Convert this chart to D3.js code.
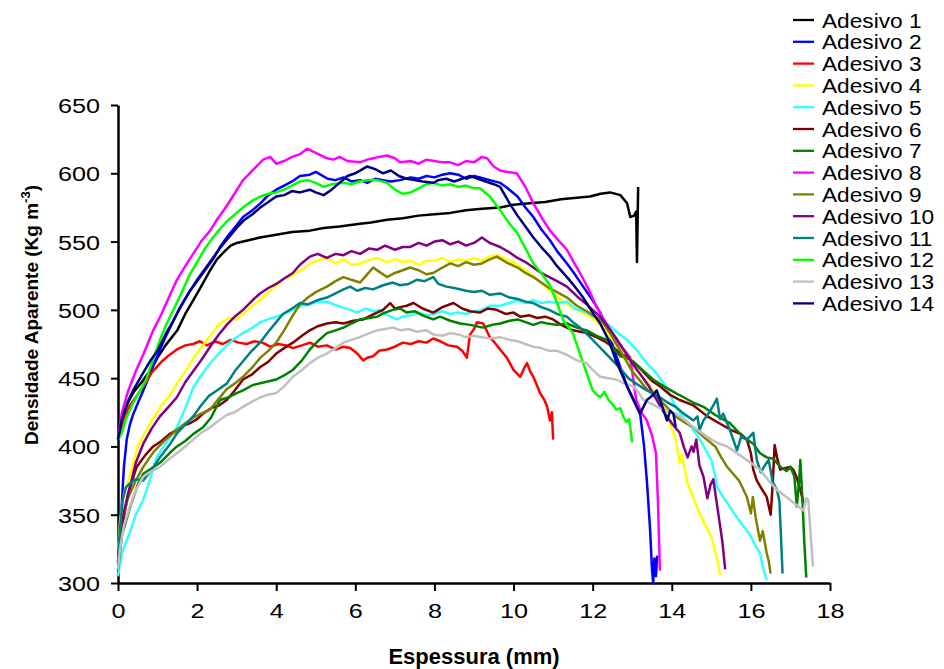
<!DOCTYPE html>
<html>
<head>
<meta charset="utf-8">
<script src="https://cdn.jsdelivr.net/npm/d3@7.9.0/dist/d3.min.js"></script>
<style>
  body { margin: 0; background: #fff; }
  svg { display: block; font-family: "Liberation Sans", Arial, sans-serif; }
  .tick text { font-size: 21px; fill: #000; }
  .axis-title { font-size: 22px; font-weight: bold; }
  .y-title { font-size: 19px; font-weight: bold; }
  .legend text { font-size: 21px; }
</style>
</head>
<body>
<svg id="chart" width="944" height="669"></svg>
<script>
const names = ['Adesivo 1', 'Adesivo 2', 'Adesivo 3', 'Adesivo 4', 'Adesivo 5', 'Adesivo 6', 'Adesivo 7',
  'Adesivo 8', 'Adesivo 9', 'Adesivo 10', 'Adesivo 11', 'Adesivo 12', 'Adesivo 13', 'Adesivo 14'];
const colors = ['#000000', '#0000ff', '#ff0000', '#ffff00', '#33ffff', '#800000', '#008000',
  '#ff00ff', '#808000', '#800080', '#008080', '#00ff00', '#c0c0c0', '#000080'];
const xTicks = [0, 2, 4, 6, 8, 10, 12, 14, 16, 18];
const yTicks = [300, 350, 400, 450, 500, 550, 600, 650];

// [espessura (mm), densidade (kg/m3)]
const adesivo1 = [[0,405],[0.1,420],[0.25,432],[0.4,440],[0.6,447],[0.8,455],[1.0,465],[1.2,474],[1.5,485],[1.7,497],
  [1.9,507],[2.1,517],[2.33,529],[2.5,537],[2.7,543],[2.85,547],[3.0,549],[3.3,551],[3.59,553],[4.0,555],[4.4,557],
  [4.85,558],[5.2,560],[5.6,561],[6.12,563],[6.4,564],[6.8,566],[7.2,567],[7.6,569],[8.0,570],[8.4,571],[8.8,573],
  [9.2,574],[9.66,575],[10.0,577],[10.4,578],[10.8,579],[11.2,581],[11.6,582],[11.93,583],[12.2,585],[12.44,586],
  [12.7,584],[12.87,578],[12.95,568],[13.05,569],[13.1,572],[13.12,535],[13.15,590]];
const adesivo2 = [[0,305],[0.05,330],[0.1,360],[0.15,385],[0.22,405],[0.3,416],[0.39,424],[0.52,433],[0.64,441],
  [0.85,456],[1.06,471],[1.2,480],[1.4,492],[1.57,502],[1.8,513],[2.0,521],[2.2,529],[2.4,537],[2.6,547],[2.8,555],
  [3.0,562],[3.16,568],[3.4,573],[3.6,578],[3.8,584],[4.0,588],[4.2,591],[4.4,594],[4.6,598],[4.85,599],[5.0,601],
  [5.3,596],[5.5,595],[5.7,597],[5.9,594],[6.12,595],[6.3,593],[6.5,596],[6.7,595],[6.9,594],[7.13,595],[7.4,597],
  [7.6,596],[7.8,598],[8.0,597],[8.2,599],[8.4,600],[8.6,599],[8.8,596],[9.0,598],[9.15,597],[9.4,595],[9.66,593],
  [9.85,589],[10.1,583],[10.3,575],[10.5,568],[10.7,559],[10.92,551],[11.1,543],[11.35,534],[11.55,526],[11.76,517],
  [12.0,507],[12.19,498],[12.4,484],[12.6,466],[12.87,444],[13.05,433],[13.2,424],[13.3,400],[13.37,375],[13.45,340],
  [13.5,310],[13.53,300],[13.56,318],[13.6,305],[13.63,320]];
const adesivo3 = [[0,405],[0.15,420],[0.3,430],[0.5,438],[0.64,444],[0.85,454],[1.1,462],[1.3,467],[1.49,471],[1.7,474],
  [1.9,475],[2.07,477],[2.25,474],[2.45,477],[2.65,475],[2.85,478],[3.05,476],[3.25,475],[3.45,477],[3.65,476],[3.85,473],
  [4.05,475],[4.25,474],[4.42,472],[4.65,474],[4.85,476],[5.05,473],[5.28,474],[5.5,471],[5.7,473],[5.87,472],[6.05,468],
  [6.2,463],[6.3,465],[6.45,466],[6.6,470],[6.8,471],[7.0,473],[7.2,476],[7.4,475],[7.6,477],[7.8,476],[7.97,479],
  [8.15,477],[8.35,474],[8.57,473],[8.7,470],[8.82,465],[8.9,482],[9.0,486],[9.08,491],[9.23,490],[9.3,486],[9.4,480],
  [9.55,475],[9.66,471],[9.83,465],[10.0,456],[10.17,451],[10.28,458],[10.34,461],[10.42,455],[10.5,451],[10.6,444],
  [10.67,439],[10.78,434],[10.85,429],[10.92,419],[10.97,425],[11.0,405]];
const adesivo4 = [[0,320],[0.05,345],[0.15,365],[0.3,379],[0.5,400],[0.81,417],[1.1,430],[1.3,437],[1.49,446],[1.7,455],
  [1.9,464],[2.07,471],[2.3,480],[2.58,490],[2.8,494],[3.0,493],[3.16,497],[3.4,503],[3.59,507],[3.8,513],[4.0,518],
  [4.2,523],[4.35,524],[4.5,527],[4.7,530],[4.85,534],[5.05,536],[5.28,538],[5.5,534],[5.7,537],[5.9,533],[6.12,534],
  [6.3,536],[6.55,538],[6.8,535],[7.0,537],[7.2,535],[7.38,536],[7.6,533],[7.8,536],[8.0,536],[8.2,538],[8.4,535],
  [8.6,537],[8.8,536],[9.0,538],[9.2,536],[9.4,539],[9.58,540],[9.8,537],[10.0,535],[10.2,531],[10.4,527],[10.6,522],
  [10.8,517],[11.0,512],[11.2,507],[11.4,503],[11.6,500],[11.8,497],[12.0,494],[12.2,489],[12.4,482],[12.6,474],
  [12.8,467],[13.0,459],[13.2,453],[13.4,446],[13.6,438],[13.8,428],[13.96,416],[14.1,405],[14.2,388],[14.25,394],
  [14.4,373],[14.55,362],[14.7,351],[14.85,342],[15.0,334],[15.08,325],[15.15,317],[15.22,306]];
const adesivo5 = [[0,305],[0.1,322],[0.3,337],[0.45,350],[0.64,361],[0.8,375],[0.98,392],[1.2,402],[1.49,414],[1.7,428],
  [1.9,443],[2.1,452],[2.33,461],[2.55,468],[2.75,474],[2.95,479],[3.16,483],[3.4,487],[3.6,491],[3.8,493],[4.0,495],
  [4.2,497],[4.42,500],[4.65,503],[4.85,504],[5.05,506],[5.28,506],[5.45,504],[5.65,502],[5.87,500],[6.05,498],
  [6.25,501],[6.45,499],[6.6,500],[6.75,497],[6.9,495],[7.05,493],[7.2,495],[7.4,496],[7.6,498],[7.8,496],[7.97,497],
  [8.2,499],[8.4,497],[8.6,498],[8.8,497],[9.0,499],[9.2,500],[9.4,503],[9.66,503],[9.9,505],[10.1,507],[10.3,505],
  [10.5,507],[10.7,505],[10.9,506],[11.1,505],[11.35,506],[11.55,501],[11.85,498],[12.1,494],[12.36,490],[12.6,484],
  [12.87,478],[13.1,471],[13.37,461],[13.6,454],[13.8,446],[13.95,438],[14.1,429],[14.3,421],[14.55,412],[14.75,403],
  [15.0,390],[15.1,378],[15.15,370],[15.25,365],[15.4,359],[15.55,352],[15.7,346],[15.85,340],[16.0,334],[16.1,328],
  [16.23,322],[16.3,312],[16.4,302]];
const adesivo6 = [[0,315],[0.1,340],[0.25,365],[0.47,385],[0.7,394],[0.89,400],[1.1,404],[1.3,409],[1.49,412],[1.65,415],
  [1.82,417],[2.0,420],[2.15,424],[2.35,428],[2.55,430],[2.75,434],[2.95,441],[3.16,449],[3.4,453],[3.59,458],[3.8,462],
  [4.0,468],[4.2,472],[4.42,476],[4.65,481],[4.85,485],[5.05,488],[5.28,490],[5.5,491],[5.7,490],[5.95,492],[6.2,493],
  [6.4,496],[6.55,498],[6.7,500],[6.88,505],[7.0,501],[7.13,502],[7.3,503],[7.47,505],[7.7,501],[7.97,498],[8.2,502],
  [8.48,505],[8.7,501],[8.9,499],[9.15,498],[9.35,501],[9.57,500],[9.8,497],[10.0,498],[10.17,495],[10.4,496],
  [10.6,494],[10.8,495],[11.0,493],[11.2,489],[11.5,485],[11.85,483],[12.1,480],[12.3,477],[12.5,473],[12.7,468],
  [12.9,465],[13.1,460],[13.3,454],[13.5,448],[13.7,444],[13.95,438],[14.2,434],[14.55,430],[14.9,422],[15.2,417],
  [15.5,412],[15.75,409],[15.9,405],[16.0,395],[16.06,383],[16.15,375],[16.25,370],[16.4,363],[16.5,350],[16.55,372],
  [16.6,401],[16.66,392],[16.74,383],[16.85,384],[17.0,385],[17.07,383],[17.15,378],[17.25,368],[17.33,359]];
const adesivo7 = [[0,310],[0.1,335],[0.3,355],[0.5,372],[0.64,380],[0.85,384],[1.06,388],[1.3,395],[1.49,400],[1.7,404],
  [1.9,409],[2.15,414],[2.35,421],[2.58,434],[2.8,436],[3.0,439],[3.16,441],[3.41,445],[3.7,447],[4.0,449],[4.2,452],
  [4.42,456],[4.65,463],[4.85,471],[5.05,477],[5.28,483],[5.5,485],[5.7,487],[5.9,490],[6.12,493],[6.35,494],[6.55,495],
  [6.75,498],[6.95,500],[7.13,501],[7.3,498],[7.5,499],[7.7,496],[7.97,493],[8.14,495],[8.4,492],[8.65,490],[8.9,489],
  [9.23,487],[9.45,489],[9.66,490],[9.9,492],[10.1,493],[10.3,491],[10.5,489],[10.7,491],[10.85,490],[11.1,489],
  [11.35,490],[11.6,487],[11.85,485],[12.1,481],[12.36,478],[12.55,471],[12.7,466],[12.85,465],[13.03,462],[13.3,455],
  [13.53,449],[13.8,444],[14.1,439],[14.3,436],[14.55,432],[14.8,429],[15.1,423],[15.47,417],[15.6,413],[15.8,407],
  [16.06,402],[16.23,395],[16.4,392],[16.56,391],[16.75,385],[16.9,382],[17.0,385],[17.1,378],[17.16,356],[17.22,375],
  [17.25,390],[17.3,363],[17.35,330],[17.4,304]];
const adesivo8 = [[0,405],[0.1,425],[0.25,440],[0.45,455],[0.65,468],[0.89,485],[1.1,497],[1.3,510],[1.49,522],[1.7,532],
  [1.9,541],[2.1,550],[2.33,558],[2.5,566],[2.7,574],[2.9,583],[3.16,595],[3.3,599],[3.5,605],[3.67,610],[3.85,612],
  [4.0,607],[4.2,609],[4.4,612],[4.6,614],[4.78,618],[5.0,615],[5.28,611],[5.45,610],[5.6,612],[5.8,609],[6.12,608],
  [6.3,610],[6.45,611],[6.6,612],[6.8,613],[7.0,611],[7.13,608],[7.4,609],[7.6,607],[7.8,610],[8.0,609],[8.2,608],
  [8.4,608],[8.6,606],[8.8,609],[9.0,608],[9.2,612],[9.33,611],[9.5,605],[9.66,602],[9.85,601],[10.08,600],[10.3,590],
  [10.5,578],[10.7,568],[10.92,558],[11.1,552],[11.35,544],[11.5,536],[11.68,527],[11.9,515],[12.1,502],[12.3,492],
  [12.5,483],[12.7,474],[12.95,465],[13.1,434],[13.25,424],[13.37,419],[13.5,408],[13.6,395],[13.65,360],[13.68,330],
  [13.7,309]];
const adesivo9 = [[0,320],[0.1,345],[0.25,362],[0.45,375],[0.64,385],[0.9,396],[1.2,405],[1.49,412],[1.7,417],[1.9,421],
  [2.1,424],[2.33,427],[2.55,435],[2.75,442],[2.95,446],[3.16,451],[3.4,458],[3.6,465],[3.8,470],[4.0,476],[4.2,485],
  [4.4,495],[4.6,504],[4.8,509],[5.0,513],[5.28,517],[5.5,521],[5.7,524],[5.9,522],[6.12,520],[6.3,526],[6.45,531],
  [6.6,528],[6.8,524],[7.0,527],[7.2,529],[7.38,531],[7.6,529],[7.8,526],[7.97,527],[8.2,531],[8.4,534],[8.6,532],
  [8.8,535],[9.0,533],[9.2,534],[9.4,537],[9.58,539],[9.8,535],[10.1,531],[10.3,527],[10.5,524],[10.7,520],[10.9,516],
  [11.1,513],[11.35,509],[11.6,503],[11.85,499],[12.0,496],[12.19,493],[12.4,485],[12.6,475],[12.8,465],[13.0,455],
  [13.2,448],[13.4,441],[13.7,434],[13.9,428],[14.1,422],[14.3,418],[14.55,414],[14.8,407],[15.1,400],[15.25,392],
  [15.4,385],[15.55,380],[15.7,375],[15.8,369],[15.9,363],[16.0,351],[16.05,363],[16.12,348],[16.23,331],[16.3,338],
  [16.4,322],[16.45,316],[16.5,307]];
const adesivo10 = [[0,315],[0.05,335],[0.15,352],[0.3,370],[0.45,388],[0.64,402],[0.85,413],[1.06,422],[1.25,428],
  [1.49,436],[1.7,447],[1.9,455],[2.1,463],[2.33,473],[2.55,482],[2.75,489],[2.95,495],[3.16,500],[3.4,507],[3.59,512],
  [3.8,516],[4.0,519],[4.2,523],[4.42,527],[4.6,533],[4.85,539],[5.05,541],[5.28,538],[5.5,541],[5.7,540],[5.9,543],
  [6.12,541],[6.35,545],[6.55,544],[6.75,547],[7.0,544],[7.2,546],[7.38,546],[7.6,549],[7.8,547],[8.0,550],[8.2,551],
  [8.4,548],[8.6,550],[8.8,547],[9.0,549],[9.2,553],[9.4,549],[9.66,546],[9.9,542],[10.1,538],[10.3,535],[10.5,531],
  [10.7,527],[10.9,524],[11.1,521],[11.35,517],[11.6,510],[11.85,504],[12.0,500],[12.19,495],[12.4,487],[12.6,479],
  [12.8,470],[13.0,461],[13.2,453],[13.4,445],[13.6,435],[13.8,425],[14.0,417],[14.2,410],[14.3,400],[14.4,392],
  [14.5,400],[14.55,396],[14.62,405],[14.7,386],[14.8,378],[14.9,362],[14.98,372],[15.05,376],[15.12,362],[15.2,346],
  [15.28,330],[15.35,310]];
const adesivo11 = [[0,315],[0.05,340],[0.12,361],[0.2,370],[0.3,373],[0.45,376],[0.64,375],[0.85,383],[1.06,392],
  [1.3,401],[1.5,410],[1.7,416],[1.9,422],[2.1,430],[2.3,437],[2.5,441],[2.75,446],[2.95,455],[3.15,462],[3.35,469],
  [3.59,476],[3.8,484],[4.0,491],[4.17,497],[4.4,501],[4.6,505],[4.8,504],[5.03,507],[5.28,509],[5.5,512],[5.7,515],
  [5.87,517],[6.05,514],[6.25,516],[6.45,515],[6.7,518],[6.95,520],[7.13,518],[7.35,519],[7.55,522],[7.75,521],
  [7.97,524],[8.1,519],[8.3,517],[8.5,516],[8.8,514],[9.0,513],[9.2,514],[9.4,511],[9.66,512],[9.9,509],[10.1,508],
  [10.3,506],[10.5,505],[10.7,502],[10.9,500],[11.1,497],[11.35,495],[11.5,491],[11.68,487],[11.9,481],[12.1,475],
  [12.3,469],[12.5,463],[12.7,457],[12.9,450],[13.1,446],[13.37,441],[13.53,439],[13.7,436],[13.9,432],[14.1,429],
  [14.3,424],[14.55,419],[14.65,422],[14.7,412],[14.8,419],[14.95,425],[15.05,430],[15.14,435],[15.22,420],[15.3,424],
  [15.47,412],[15.65,397],[15.75,407],[15.9,405],[16.06,410],[16.15,390],[16.25,381],[16.35,386],[16.45,390],
  [16.55,374],[16.66,368],[16.72,360],[16.76,335],[16.8,307]];
const adesivo12 = [[0,405],[0.1,410],[0.2,420],[0.35,430],[0.5,438],[0.7,448],[0.9,465],[1.06,478],[1.2,488],[1.4,500],
  [1.6,512],[1.8,525],[2.0,535],[2.2,545],[2.4,553],[2.6,560],[2.8,566],[3.0,571],[3.16,575],[3.4,580],[3.6,583],
  [3.8,585],[4.0,586],[4.2,588],[4.4,591],[4.6,594],[4.8,595],[5.0,593],[5.2,590],[5.4,592],[5.7,593],[5.9,592],
  [6.1,594],[6.3,595],[6.55,595],[6.8,593],[7.0,588],[7.2,585],[7.4,586],[7.6,589],[7.8,592],[7.97,593],[8.2,591],
  [8.4,592],[8.6,590],[8.8,591],[9.0,589],[9.15,589],[9.4,583],[9.66,573],[9.9,563],[10.1,556],[10.3,545],[10.5,534],
  [10.7,527],[10.92,518],[11.1,505],[11.26,492],[11.5,483],[11.76,461],[12.0,441],[12.1,438],[12.19,436],[12.3,440],
  [12.4,434],[12.5,431],[12.6,427],[12.7,428],[12.77,422],[12.85,418],[12.92,420],[13.0,403]];
const adesivo13 = [[0,310],[0.05,325],[0.15,342],[0.3,356],[0.45,368],[0.64,378],[0.85,382],[1.06,385],[1.3,391],
  [1.49,395],[1.7,400],[1.9,405],[2.1,410],[2.33,414],[2.55,419],[2.75,423],[2.95,425],[3.16,429],[3.4,433],[3.6,436],
  [3.8,438],[4.0,439],[4.2,444],[4.42,451],[4.65,456],[4.85,461],[5.05,465],[5.28,468],[5.5,472],[5.7,476],[5.9,478],
  [6.12,480],[6.35,483],[6.55,485],[6.75,486],[6.95,487],[7.15,485],[7.35,486],[7.55,484],[7.8,485],[7.97,482],
  [8.2,481],[8.4,483],[8.6,482],[8.8,480],[9.0,481],[9.2,480],[9.4,479],[9.66,480],[9.9,478],[10.1,477],[10.3,475],
  [10.5,473],[10.7,472],[10.9,470],[11.1,470],[11.35,467],[11.6,463],[11.85,461],[12.0,456],[12.19,451],[12.4,450],
  [12.6,449],[12.8,446],[13.03,444],[13.15,440],[13.28,434],[13.5,431],[13.7,428],[13.9,426],[14.1,424],[14.3,420],
  [14.55,414],[14.8,409],[15.0,405],[15.2,402],[15.4,400],[15.6,396],[15.8,392],[16.0,388],[16.23,383],[16.45,375],
  [16.66,368],[16.85,364],[17.07,359],[17.2,356],[17.33,353],[17.4,362],[17.45,361],[17.5,340],[17.57,312]];
const adesivo14 = [[0,405],[0.1,420],[0.25,433],[0.4,442],[0.6,452],[0.8,462],[1.0,470],[1.2,482],[1.4,492],[1.6,503],
  [1.8,513],[2.0,522],[2.2,530],[2.4,538],[2.6,546],[2.8,553],[3.0,560],[3.2,566],[3.4,570],[3.6,575],[3.8,579],
  [4.0,583],[4.2,584],[4.4,587],[4.6,586],[4.85,588],[5.0,586],[5.2,584],[5.4,588],[5.6,593],[5.8,598],[6.0,600],
  [6.12,602],[6.3,605],[6.5,603],[6.7,600],[6.9,602],[7.1,598],[7.3,596],[7.5,595],[7.7,594],[7.97,593],[8.1,595],
  [8.3,596],[8.5,594],[8.8,597],[8.9,598],[9.1,596],[9.3,594],[9.5,592],[9.66,590],[9.9,578],[10.1,569],[10.3,561],
  [10.5,553],[10.7,546],[10.92,539],[11.1,532],[11.35,524],[11.55,517],[11.76,509],[12.0,498],[12.19,490],[12.4,478],
  [12.6,462],[12.87,444],[13.0,436],[13.2,424],[13.37,434],[13.5,437],[13.62,441],[13.75,430],[13.88,419],[13.96,426],
  [14.04,424],[14.1,414]];

const series = [adesivo1, adesivo2, adesivo3, adesivo4, adesivo5, adesivo6, adesivo7,
  adesivo8, adesivo9, adesivo10, adesivo11, adesivo12, adesivo13, adesivo14];

const svg = d3.select('#chart');
const x = d3.scaleLinear().domain([0, 18]).range([118, 830]);
const y = d3.scaleLinear().domain([300, 650]).range([583, 105]);

// axes
const xAxis = svg.append('g')
  .attr('transform', `translate(0, ${y(300)})`)
  .call(d3.axisBottom(x).tickValues(xTicks).tickSize(8).tickSizeOuter(0).tickPadding(12));
const yAxis = svg.append('g')
  .attr('transform', `translate(${x(0)}, 0)`)
  .call(d3.axisLeft(y).tickValues(yTicks).tickSize(7).tickSizeOuter(0).tickPadding(8));

[xAxis, yAxis].forEach(g => {
  g.select('.domain').attr('stroke', '#000').attr('stroke-width', 2.5);
  g.selectAll('.tick line').attr('stroke', '#000').attr('stroke-width', 2);
  g.selectAll('.tick text').attr('font-family', null).attr('font-size', null)
    .attr('transform', 'scale(1.2, 1)');
});
yAxis.selectAll('.tick text').attr('dy', '0.36em');

svg.append('text')
  .attr('class', 'axis-title')
  .attr('x', 474)
  .attr('y', 664)
  .attr('text-anchor', 'middle')
  .text('Espessura (mm)');

const yTitle = svg.append('text')
  .attr('class', 'y-title')
  .attr('transform', 'translate(38, 315) rotate(-90)')
  .attr('text-anchor', 'middle');
yTitle.append('tspan').text('Densidade Aparente (Kg m');
yTitle.append('tspan').attr('dy', -8).attr('font-size', 13).text('-3');
yTitle.append('tspan').attr('dy', 8).text(')');

// series
const line = d3.line().x(d => x(d[0])).y(d => y(d[1]));
svg.append('g')
  .selectAll('path')
  .data(series)
  .join('path')
  .attr('d', line)
  .attr('fill', 'none')
  .attr('stroke', (d, i) => colors[i])
  .attr('stroke-width', 2.5)
  .attr('stroke-linejoin', 'round');

// legend
const legend = svg.append('g').attr('class', 'legend');
names.forEach((name, i) => {
  const row = legend.append('g').attr('transform', `translate(793, ${20 + i * 21.8})`);
  row.append('line')
    .attr('x1', 0).attr('x2', 21)
    .attr('stroke', colors[i])
    .attr('stroke-width', 2.3);
  row.append('text')
    .attr('transform', 'translate(29, 0) scale(1.08, 1)')
    .attr('dy', '0.36em')
    .text(name);
});
</script>
</body>
</html>
